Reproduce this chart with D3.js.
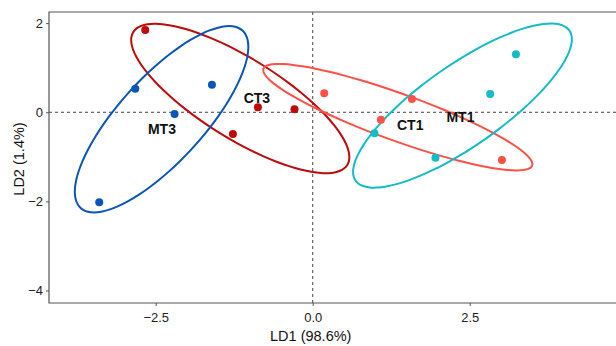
<!DOCTYPE html>
<html>
<head>
<meta charset="utf-8">
<script src="https://cdn.jsdelivr.net/npm/d3@7"></script>
<style>
  body { margin: 0; background: #fff; }
  svg { display: block; font-family: "Liberation Sans", Arial, sans-serif; }
</style>
</head>
<body>
<div id="chart"></div>
<script>
const width = 616;
const height = 346;
const margin = { top: 12, right: 0, bottom: 43, left: 49 };

const groups = ["CT3", "MT3", "CT1", "MT1"];
const colors = ["#bf0a0a", "#0a55b8", "#ff5147", "#13bcc6"];

// LD scores, one array per group
const ld1CT3 = [-2.667, -0.873, -0.29, -1.271];
const ld2CT3 = [1.845, 0.112, 0.067, -0.487];
const ld1MT3 = [-2.826, -1.605, -2.2, -3.4];
const ld2MT3 = [0.529, 0.619, -0.038, -2.018];
const ld1CT1 = [0.183, 1.58, 1.086, 3.013];
const ld2CT1 = [0.426, 0.298, -0.166, -1.07];
const ld1MT1 = [3.236, 2.826, 0.984, 1.955];
const ld2MT1 = [1.3, 0.41, -0.471, -1.018];

// group label anchors (data units)
const labelLD1 = [-0.889, -2.401, 1.553, 2.353];
const labelLD2 = [0.314, -0.381, -0.285, -0.112];

const xTicks = [-2.5, 0, 2.5];
const yTicks = [-4, -2, 0, 2];
const ellipseLevel = 0.75;

const ld1 = [ld1CT3, ld1MT3, ld1CT1, ld1MT1];
const ld2 = [ld2CT3, ld2MT3, ld2CT1, ld2MT1];

// MASS::cov.trob port for 2 columns (nu = 5)
const covTrob = (xs, ys) => {
  const n = xs.length, nu = 5, p = 2;
  let w = xs.map(() => 1);
  let loc = [d3.mean(xs), d3.mean(ys)];
  let X;
  for (let iter = 0; iter < 25; iter++) {
    const w0 = w.slice();
    X = xs.map((x, i) => [x - loc[0], ys[i] - loc[1]]);
    const sw = d3.sum(w);
    let a = 0, b = 0, c = 0;
    X.forEach((v, i) => {
      a += (w[i] / sw) * v[0] * v[0];
      b += (w[i] / sw) * v[0] * v[1];
      c += (w[i] / sw) * v[1] * v[1];
    });
    const det = a * c - b * b;
    const Q = X.map((v) => (c * v[0] * v[0] - 2 * b * v[0] * v[1] + a * v[1] * v[1]) / det);
    w = Q.map((q) => (nu + p) / (nu + q));
    const sw2 = d3.sum(w);
    loc = [d3.sum(xs.map((x, i) => w[i] * x)) / sw2, d3.sum(ys.map((y, i) => w[i] * y)) / sw2];
    if (w.every((v, i) => Math.abs(v - w0[i]) < 0.01)) break;
  }
  let a = 0, b = 0, c = 0;
  X.forEach((v, i) => {
    a += w[i] * v[0] * v[0];
    b += w[i] * v[0] * v[1];
    c += w[i] * v[1] * v[1];
  });
  return { center: loc, cov: [a / n, b / n, c / n] };
};

// F(2, d) quantile has a closed form
const qf2 = (level, d) => (d / 2) * (Math.pow(1 - level, -2 / d) - 1);

const ellipsePoints = (xs, ys) => {
  const { center, cov } = covTrob(xs, ys);
  const r = Math.sqrt(2 * qf2(ellipseLevel, xs.length - 1));
  const ra = Math.sqrt(cov[0]);
  const rb = cov[1] / ra;
  const rc = Math.sqrt(cov[2] - rb * rb);
  return d3.range(0, 51).map((k) => {
    const t = (k * 2 * Math.PI) / 51;
    return [center[0] + r * ra * Math.cos(t), center[1] + r * (rb * Math.cos(t) + rc * Math.sin(t))];
  });
};

const xScale = d3.scaleLinear().domain([-4.2, 4.83]).range([margin.left, width - margin.right]);
const yScale = d3.scaleLinear().domain([-4.28, 2.25]).range([height - margin.bottom, margin.top]);

const svg = d3.select("#chart").append("svg").attr("width", width).attr("height", height);

svg.append("defs").append("clipPath").attr("id", "panel")
  .append("rect")
  .attr("x", margin.left).attr("y", margin.top)
  .attr("width", width - margin.left).attr("height", height - margin.top - margin.bottom);

// reference lines
svg.append("line")
  .attr("x1", margin.left).attr("x2", width)
  .attr("y1", yScale(0)).attr("y2", yScale(0))
  .attr("stroke", "#444").attr("stroke-width", 1).attr("stroke-dasharray", "3,3");
svg.append("line")
  .attr("x1", xScale(0)).attr("x2", xScale(0))
  .attr("y1", margin.top).attr("y2", height - margin.bottom)
  .attr("stroke", "#444").attr("stroke-width", 1).attr("stroke-dasharray", "3,3");

const plotGroup = svg.append("g").attr("clip-path", "url(#panel)");

const line = d3.line().x((d) => xScale(d[0])).y((d) => yScale(d[1])).curve(d3.curveCatmullRomClosed);

groups.forEach((g, gi) => {
  plotGroup.append("path")
    .attr("d", line(ellipsePoints(ld1[gi], ld2[gi])))
    .attr("fill", "none")
    .attr("stroke", colors[gi])
    .attr("stroke-width", 2);
});

groups.forEach((g, gi) => {
  plotGroup.selectAll(null)
    .data(ld1[gi].map((x, i) => [x, ld2[gi][i]]))
    .join("circle")
    .attr("cx", (d) => xScale(d[0]))
    .attr("cy", (d) => yScale(d[1]))
    .attr("r", 4)
    .attr("fill", colors[gi]);
});

plotGroup.selectAll(".grp-label")
  .data(groups)
  .join("text")
  .attr("class", "grp-label")
  .attr("x", (d, i) => xScale(labelLD1[i]))
  .attr("y", (d, i) => yScale(labelLD2[i]))
  .attr("dy", "0.35em")
  .attr("text-anchor", "middle")
  .style("font-size", "14px")
  .style("font-weight", "bold")
  .attr("fill", "#111")
  .text((d) => d);

// panel border (right side runs off the picture)
svg.append("path")
  .attr("d", `M${width + 2},${margin.top}H${margin.left}V${height - margin.bottom}H${width + 2}`)
  .attr("fill", "none")
  .attr("stroke", "#555")
  .attr("stroke-width", 1.2);

const xAxis = svg.append("g")
  .attr("transform", `translate(0, ${height - margin.bottom})`)
  .call(d3.axisBottom(xScale).tickValues(xTicks).tickSize(3).tickPadding(7).tickFormat(d3.format(".1f")));
const yAxis = svg.append("g")
  .attr("transform", `translate(${margin.left}, 0)`)
  .call(d3.axisLeft(yScale).tickValues(yTicks).tickSize(3).tickPadding(3).tickFormat(d3.format("d")));

[xAxis, yAxis].forEach((ax) => {
  ax.select(".domain").remove();
  ax.selectAll(".tick line").attr("stroke", "#555");
  ax.selectAll(".tick text")
    .attr("fill", "#222")
    .style("font-size", "13px")
    .style("font-family", "Liberation Sans, Arial, sans-serif");
});

svg.append("text")
  .attr("x", xScale(0) - 2)
  .attr("y", 341)
  .attr("text-anchor", "middle")
  .style("font-size", "14.5px")
  .attr("fill", "#111")
  .text("LD1 (98.6%)");

svg.append("text")
  .attr("transform", "rotate(-90)")
  .attr("x", -159)
  .attr("y", 24)
  .attr("text-anchor", "middle")
  .style("font-size", "14.5px")
  .attr("fill", "#111")
  .text("LD2 (1.4%)");
</script>
</body>
</html>
